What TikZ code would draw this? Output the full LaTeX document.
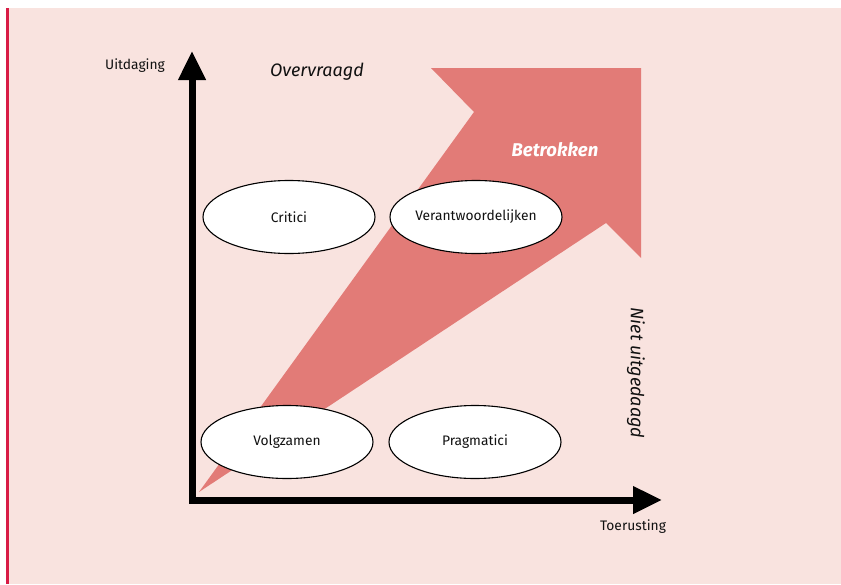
\documentclass[tikz,border=0pt]{standalone}
\usepackage{fontspec}
\setmainfont{Fira Sans}
\usetikzlibrary{shapes.geometric,arrows.meta}

\definecolor{bgpink}{HTML}{F9E3DF}
\definecolor{arrowred}{HTML}{E27B77}
\definecolor{edgered}{HTML}{D81B45}
\definecolor{inktext}{HTML}{111111}

\tikzset{
  group/.style={ellipse, draw=black, line width=1.1pt, fill=white,
    inner sep=0pt, minimum width=172pt, minimum height=73pt, text=inktext,
    font=\fontsize{13.8}{16}\selectfont},
  axis/.style={line width=7pt, line join=miter,
    {Triangle[length=29pt,width=26pt]}-{Triangle[length=29pt,width=26pt]}},
  axistext/.style={text=inktext, font=\fontsize{13.8}{16}\selectfont},
  zonetext/.style={text=inktext, font=\fontsize{18}{20}\selectfont\itshape}
}

\begin{document}
\begin{tikzpicture}[x=1pt,y=-1pt]
  \useasboundingbox (0,0) rectangle (841,584);
  % background and margin rule
  \fill[bgpink] (6,8) rectangle (841,584);
  \fill[edgered] (6,8) rectangle (8.5,584);

  % big arrow
  \fill[arrowred] (199,492) -- (474,112) -- (431,68) -- (641,68)
    -- (641,258) -- (606,223) -- cycle;
  \node[text=white, font=\fontsize{18.5}{20}\selectfont\bfseries\itshape] (betrokken) at (555,150) {Betrokken};

  % axes
  \coordinate (origin) at (192,500);
  \coordinate (ytop) at (192,51);
  \coordinate (xend) at (662,500);
  \draw[axis] (ytop) -- (origin) -- (xend);

  \node[axistext] (uitdaging) at (135,66) {Uitdaging};
  \node[axistext] (toerusting) at (633,527) {Toerusting};
  \node[zonetext] (overvraagd) at (317,72) {Overvraagd};
  \node[zonetext, rotate=-90] (nietuitgedaagd) at (636,373) {Niet uitgedaagd};

  % groups
  \node[group] (critici) at (289,217) {Critici};
  \node[group] (verantwoordelijken) at (476,217) {Verantwoordelijken};
  \node[group] (volgzamen) at (287,442) {Volgzamen};
  \node[group] (pragmatici) at (475,442) {Pragmatici};
\end{tikzpicture}
\end{document}
